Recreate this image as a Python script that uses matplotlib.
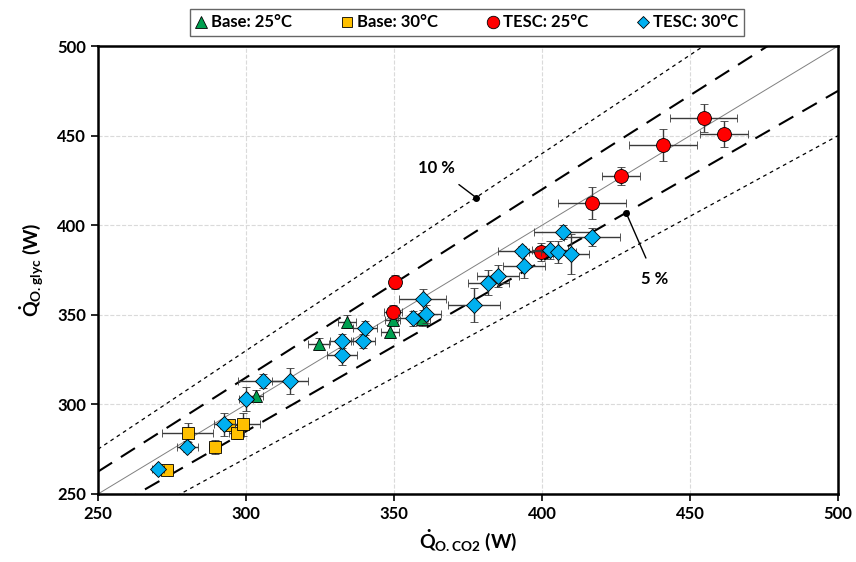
import matplotlib.pyplot as plt
from matplotlib.lines import Line2D
import numpy as np

plt.rcParams['font.family'] = ['Lato', 'DejaVu Sans']
plt.rcParams['font.weight'] = 'bold'
plt.rcParams['mathtext.fontset'] = 'custom'
plt.rcParams['mathtext.rm'] = 'Lato:bold'
plt.rcParams['mathtext.it'] = 'Lato:bold'
plt.rcParams['mathtext.bf'] = 'Lato:bold'

# Base 25 C
b25_x = [303.3, 324.5, 334.0, 348.6, 349.5, 359.3]
b25_y = [304.7, 333.7, 346.2, 340.6, 347.1, 347.5]
b25_xe = [2.5, 3.5, 3.0, 3.0, 2.5, 3.0]
b25_ye = [3.5, 3.5, 3.5, 3.5, 3.0, 3.5]

# Base 30 C
b30_x = [273.2, 280.3, 289.5, 294.3, 296.8, 299.1]
b30_y = [263.4, 284.2, 276.4, 288.5, 283.9, 288.9]
b30_xe = [2.0, 8.7, 2.0, 3.0, 2.5, 5.7]
b30_ye = [2.0, 5.4, 4.0, 3.0, 3.0, 6.5]

# TESC 25 C
t25_x = [349.7, 350.3, 399.7, 416.9, 426.7, 440.9, 454.7, 461.5]
t25_y = [351.7, 368.3, 385.2, 412.4, 427.5, 444.8, 459.8, 450.9]
t25_xe = [3.0, 2.0, 4.0, 11.5, 6.4, 11.4, 11.3, 8.0]
t25_ye = [4.0, 4.0, 5.0, 9.0, 5.0, 8.7, 8.0, 7.4]

# TESC 30 C
t30_x = [270.4, 280.2, 292.7, 300.0, 305.9, 314.9, 332.5, 332.3, 339.6, 340.2,
         356.5, 359.7, 360.8, 377.1, 381.9, 385.2, 393.9, 393.1, 402.7, 405.5,
         409.8, 407.2, 416.8]
t30_y = [263.8, 276.4, 288.9, 302.8, 313.1, 313.2, 327.6, 335.4, 335.4, 342.5,
         348.0, 358.6, 350.3, 355.5, 367.9, 371.7, 377.4, 385.6, 386.2, 385.2,
         383.9, 396.4, 393.2]
t30_xe = [2.0, 3.5, 3.5, 2.5, 8.7, 6.2, 5.0, 4.0, 4.0, 4.0,
          5.0, 8.0, 5.0, 8.7, 7.0, 7.0, 7.0, 8.0, 6.0, 6.0,
          6.0, 10.0, 9.5]
t30_ye = [2.0, 3.0, 6.5, 6.7, 4.0, 7.3, 5.6, 4.0, 4.0, 4.0,
          4.0, 6.0, 5.0, 9.6, 7.0, 6.0, 7.0, 3.0, 5.0, 6.0,
          11.0, 4.0, 5.0]

fig = plt.figure(figsize=(8.56, 5.62), dpi=100)
ax = fig.add_axes([0.1145, 0.121, 0.8645, 0.797])

ref = np.array([250, 500])
ax.plot(ref, ref, color='#808080', lw=0.7, zorder=1)
ax.plot(ref, ref * 1.05, color='black', lw=1.5, dashes=(8, 5), zorder=1)
ax.plot(ref, ref * 0.95, color='black', lw=1.5, dashes=(8, 5), zorder=1)
ax.plot(ref, ref * 1.10, color='black', lw=0.9, dashes=(3, 3), zorder=1)
ax.plot(ref, ref * 0.90, color='black', lw=0.9, dashes=(3, 3), zorder=1)

eb = dict(ls='none', ecolor='#3a3a3a', elinewidth=1.0, capsize=3, capthick=1.0,
          markeredgecolor='black', markeredgewidth=0.6)
ax.errorbar(b25_x, b25_y, xerr=b25_xe, yerr=b25_ye, fmt='^', ms=9,
            color='#00A050', zorder=3, **eb)
ax.errorbar(b30_x, b30_y, xerr=b30_xe, yerr=b30_ye, fmt='s', ms=8,
            color='#FFC000', zorder=3, **eb)
ax.errorbar(t25_x, t25_y, xerr=t25_xe, yerr=t25_ye, fmt='o', ms=10,
            color='#FF0000', zorder=4, **eb)
ax.errorbar(t30_x, t30_y, xerr=t30_xe, yerr=t30_ye, fmt='D', ms=8,
            color='#00B0F0', zorder=5, **eb)

# annotations for the deviation bands
ax.plot(377.7, 377.7 * 1.10, 'o', color='black', ms=4, zorder=6)
ax.annotate('10 %', xy=(377.7, 377.7 * 1.10), xytext=(364.5, 432),
            ha='center', va='center', fontsize=12, fontweight='bold',
            arrowprops=dict(arrowstyle='-', color='black', lw=1, shrinkA=7, shrinkB=0))
ax.plot(428.4, 428.4 * 0.95, 'o', color='black', ms=4, zorder=6)
ax.annotate('5 %', xy=(428.4, 428.4 * 0.95), xytext=(438.2, 370),
            ha='center', va='center', fontsize=12, fontweight='bold',
            arrowprops=dict(arrowstyle='-', color='black', lw=1, shrinkA=8, shrinkB=0))

ax.set_xlim(250, 500)
ax.set_ylim(250, 500)
ax.set_xticks(np.arange(250, 501, 50))
ax.set_yticks(np.arange(250, 501, 50))
ax.grid(True, color='#dadada', ls='--', lw=0.8, zorder=0)
ax.set_axisbelow(True)
for s in ax.spines.values():
    s.set_linewidth(1.8)
ax.tick_params(labelsize=12, width=1.2, length=5)
for lab in ax.get_xticklabels() + ax.get_yticklabels():
    lab.set_fontweight('bold')

ax.set_xlabel(r'$\dot{Q}_{O.CO2}$ (W)', fontsize=14, fontweight='bold', labelpad=4)
ax.set_ylabel(r'$\dot{Q}_{O.glyc}$ (W)', fontsize=14, fontweight='bold', labelpad=8)

handles = [
    Line2D([], [], ls='none', marker='^', ms=8, color='#00A050', mec='black', mew=0.6),
    Line2D([], [], ls='none', marker='s', ms=7, color='#FFC000', mec='black', mew=0.6),
    Line2D([], [], ls='none', marker='o', ms=9, color='#FF0000', mec='black', mew=0.6),
    Line2D([], [], ls='none', marker='D', ms=6, color='#00B0F0', mec='black', mew=0.6),
]
labels = ['Base: 25°C', 'Base: 30°C', 'TESC: 25°C', 'TESC: 30°C']
leg = fig.legend(handles, labels, loc='center', bbox_to_anchor=(0.546, 0.96), ncol=4,
                 fontsize=12, frameon=True, fancybox=False, edgecolor='#404040',
                 handlelength=0.6, handletextpad=0.3, columnspacing=3.0,
                 borderpad=0.35, borderaxespad=0)
leg.get_frame().set_linewidth(1.0)
for t in leg.get_texts():
    t.set_fontweight('bold')

fig.savefig('out.png', dpi=100)
